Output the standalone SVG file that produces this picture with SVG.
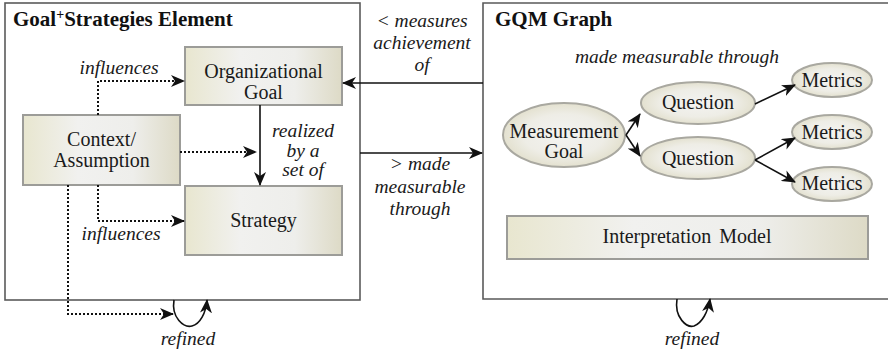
<svg xmlns="http://www.w3.org/2000/svg" width="888" height="352" viewBox="0 0 888 352">
  <style>
    .frame { fill: #ffffff; stroke: #5a5a5a; stroke-width: 1.6; }
    .box { fill: url(#boxFill); stroke: #9c9c98; stroke-width: 2; }
    .oval { fill: url(#ovalFill); stroke: #a9a8a0; stroke-width: 2; }
    text { font-family: 'Liberation Serif', 'DejaVu Serif', serif; }
    .title { font-weight: bold; font-size: 21px; fill: #111; }
    .label { font-size: 20px; fill: #1a1a1a; text-anchor: middle; }
    .note { font-style: italic; font-size: 19.5px; fill: #1a1a1a; text-anchor: middle; }
    .solid { fill: none; stroke: #111; stroke-width: 1.6; }
    .dotted { fill: none; stroke: #111; stroke-width: 2; stroke-dasharray: 2 2; }
  </style>
  <defs>
    <linearGradient id="boxFill" x1="0" y1="0" x2="1" y2="0">
      <stop offset="0" stop-color="#e8e6cf"/>
      <stop offset="0.35" stop-color="#f1f1ef"/>
      <stop offset="0.7" stop-color="#eeeeeb"/>
      <stop offset="1" stop-color="#dddac6"/>
    </linearGradient>
    <radialGradient id="ovalFill" cx="0.5" cy="0.5" r="0.55">
      <stop offset="0" stop-color="#f3f3f1"/>
      <stop offset="0.6" stop-color="#eeede6"/>
      <stop offset="1" stop-color="#e0ddc8"/>
    </radialGradient>
    <marker id="head" markerUnits="userSpaceOnUse" markerWidth="14" markerHeight="12" viewBox="0 0 14 12" refX="13" refY="6" orient="auto">
      <path d="M0,0 L14,6 L0,12 L4,6 z" fill="#111"/>
    </marker>
  </defs>

  <!-- containers -->
  <g id="goal-strategies-element">
    <rect class="frame" x="5" y="3" width="355" height="297"/>
    <text class="title" x="13" y="26">Goal<tspan dy="-7" font-size="14">+</tspan><tspan dy="7">Strategies Element</tspan></text>
  </g>
  <g id="gqm-graph">
    <path class="frame" d="M890,3 H483 V299 H890"/>
    <text class="title" x="495" y="26">GQM Graph</text>
  </g>

  <!-- Goal+Strategies nodes -->
  <g id="organizational-goal">
    <rect class="box" x="185" y="47" width="157" height="58"/>
    <text class="label" x="263.5" y="78">Organizational</text>
    <text class="label" x="263.5" y="99">Goal</text>
  </g>
  <g id="context-assumption">
    <rect class="box" x="23" y="115" width="157" height="70"/>
    <text class="label" x="101.5" y="146">Context/</text>
    <text class="label" x="101.5" y="167">Assumption</text>
  </g>
  <g id="strategy">
    <rect class="box" x="185" y="186" width="157" height="69"/>
    <text class="label" x="263.5" y="227">Strategy</text>
  </g>

  <!-- GQM nodes -->
  <g id="measurement-goal">
    <ellipse class="oval" cx="564" cy="135" rx="61" ry="32"/>
    <text class="label" x="564" y="138">Measurement</text>
    <text class="label" x="564" y="158">Goal</text>
  </g>
  <g id="question-1">
    <ellipse class="oval" cx="698" cy="103" rx="57" ry="21"/>
    <text class="label" x="698" y="109">Question</text>
  </g>
  <g id="question-2">
    <ellipse class="oval" cx="698" cy="158" rx="57" ry="21"/>
    <text class="label" x="698" y="165">Question</text>
  </g>
  <g id="metrics-1">
    <ellipse class="oval" cx="832" cy="80" rx="40" ry="17"/>
    <text class="label" x="832" y="87">Metrics</text>
  </g>
  <g id="metrics-2">
    <ellipse class="oval" cx="832" cy="132" rx="40" ry="17"/>
    <text class="label" x="832" y="139">Metrics</text>
  </g>
  <g id="metrics-3">
    <ellipse class="oval" cx="832" cy="184" rx="40" ry="17"/>
    <text class="label" x="832" y="190">Metrics</text>
  </g>
  <g id="interpretation-model">
    <rect class="box" x="507" y="216" width="361" height="43"/>
    <text class="label" x="687" y="243" word-spacing="3">Interpretation Model</text>
  </g>

  <!-- connectors -->
  <g id="connectors">
    <!-- influences (dotted) -->
    <path class="dotted" d="M98,115 V81 H184" marker-end="url(#head)"/>
    <path class="dotted" d="M180,152 H256" marker-end="url(#head)"/>
    <path class="dotted" d="M98,185 V221 H184" marker-end="url(#head)"/>
    <path class="dotted" d="M68,185 V314 H173" marker-end="url(#head)"/>
    <!-- realized by a set of -->
    <path class="solid" d="M260,105 V185" marker-end="url(#head)"/>
    <!-- between the two containers -->
    <path class="solid" d="M483,83 H343" marker-end="url(#head)"/>
    <path class="solid" d="M360,153 H482" marker-end="url(#head)"/>
    <!-- refined loops -->
    <path class="solid" d="M174,300 C171,318 184,328 192,326 C200,324 206,313 207,300" marker-end="url(#head)"/>
    <path class="solid" d="M677,299 C674,318 687,328 694,326 C702,323 708,312 710,299" marker-end="url(#head)"/>
    <!-- GQM tree -->
    <path class="solid" d="M626,135 L640,114" marker-end="url(#head)"/>
    <path class="solid" d="M626,135 L640,156" marker-end="url(#head)"/>
    <path class="solid" d="M755,104 L795,85" marker-end="url(#head)"/>
    <path class="solid" d="M755,160 L795,138" marker-end="url(#head)"/>
    <path class="solid" d="M755,160 L795,182" marker-end="url(#head)"/>

    <!-- connector labels -->
    <text class="note" x="119" y="74">influences</text>
    <text class="note" x="121" y="240">influences</text>
    <text class="note" x="303" y="137">realized</text>
    <text class="note" x="303" y="157">by a</text>
    <text class="note" x="303" y="176">set of</text>
    <text class="note" x="422" y="27">&lt; measures</text>
    <text class="note" x="422" y="49">achievement</text>
    <text class="note" x="422" y="71">of</text>
    <text class="note" x="420" y="170">&gt; made</text>
    <text class="note" x="420" y="193">measurable</text>
    <text class="note" x="420" y="215">through</text>
    <text class="note" x="677" y="63">made measurable through</text>
    <text class="note" x="188" y="345">refined</text>
    <text class="note" x="692" y="345">refined</text>
  </g>
</svg>
